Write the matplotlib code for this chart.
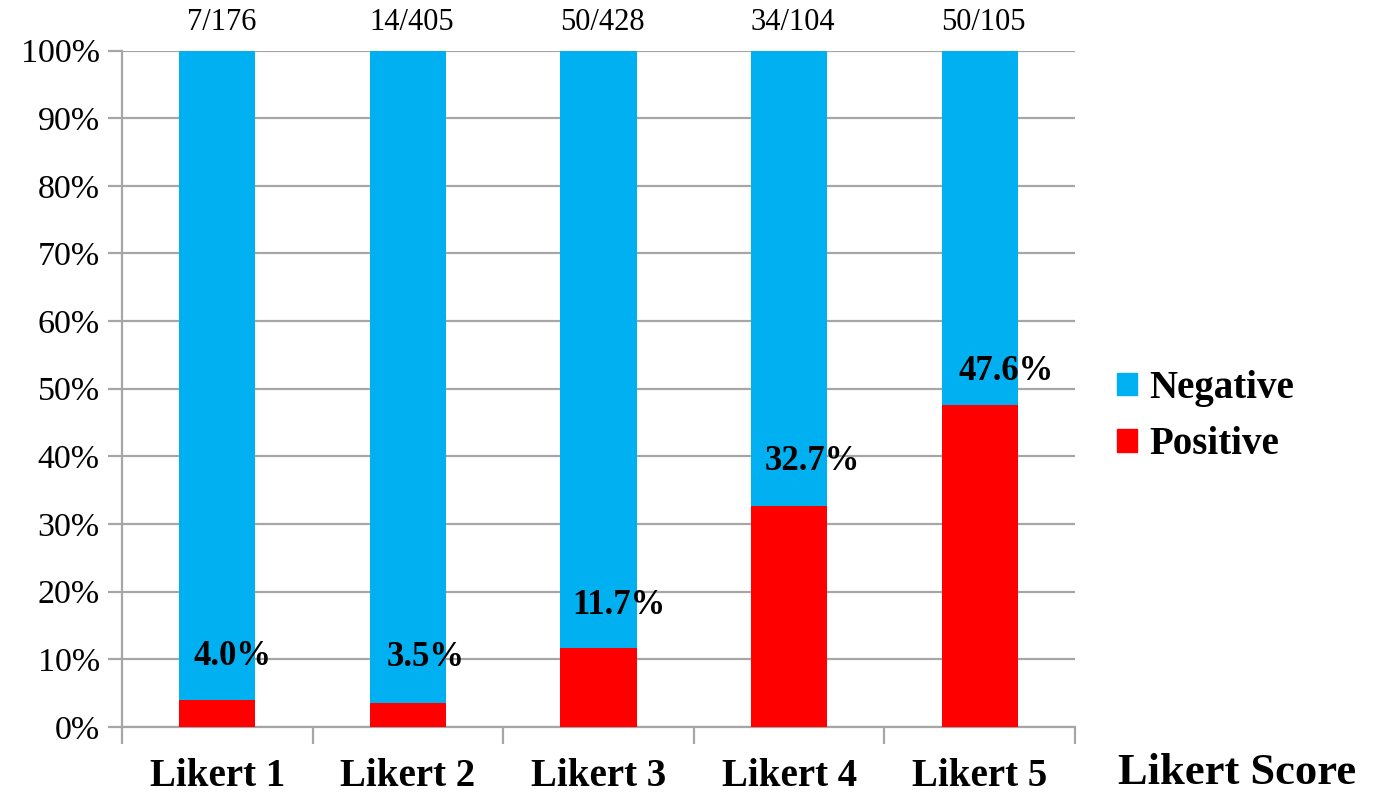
import numpy as np
import matplotlib
matplotlib.use('Agg')
import matplotlib.pyplot as plt
from matplotlib.patches import Patch
from matplotlib.ticker import FixedLocator, PercentFormatter

categories = ['Likert 1', 'Likert 2', 'Likert 3', 'Likert 4', 'Likert 5']
positive_counts = [7, 14, 50, 34, 50]
totals = [176, 405, 428, 104, 105]
positive_pct = [4.0, 3.5, 11.7, 32.7, 47.6]

blue = '#00B0F0'
red = '#FF0000'
grid_color = '#A6A6A6'
# label offsets above the red segment, in pixels (labels were hand placed)
label_offsets = [43, 46, 42, 44, 33]

plt.rcParams['font.family'] = ['Liberation Serif', 'DejaVu Serif']

fig = plt.figure(figsize=(13.76, 7.95), dpi=100)
ax = fig.add_axes([122 / 1376, 68 / 795, 953 / 1376, 676.5 / 795])

x = np.arange(len(categories))
pos = np.array(positive_pct)
neg = 100 - pos
ax.bar(x, pos, width=0.4, color=red, zorder=3, label='Positive')
ax.bar(x, neg, width=0.4, bottom=pos, color=blue, zorder=3, label='Negative')

ax.set_xlim(-0.5, len(categories) - 0.5)
ax.set_ylim(0, 100)
ax.set_yticks(np.arange(0, 101, 10))
ax.yaxis.set_major_formatter(PercentFormatter(decimals=0))
ax.grid(axis='y', color=grid_color, linewidth=1.6, zorder=0)
ax.tick_params(axis='y', direction='out', length=10, width=1.6, color=grid_color,
               labelsize=24.5, pad=6)

ax.set_xticks(x)
ax.set_xticklabels(categories, fontsize=28, fontweight='bold')
ax.tick_params(axis='x', which='major', length=0, pad=22)
ax.xaxis.set_minor_locator(FixedLocator(np.arange(-0.5, len(categories), 1.0)))
ax.tick_params(axis='x', which='minor', direction='out', length=12, width=1.6, color=grid_color)

for side in ['top', 'right']:
    ax.spines[side].set_visible(False)
for side in ['left', 'bottom']:
    ax.spines[side].set_color(grid_color)
    ax.spines[side].set_linewidth(1.6)

for i in range(len(categories)):
    ax.annotate('{:.1f}%'.format(positive_pct[i]), (x[i], pos[i]),
                xytext=(11 + 2 * i, label_offsets[i] * 0.72), textcoords='offset points',
                ha='center', va='center', fontsize=25, fontweight='bold', zorder=5)
    ax.annotate('{}/{}'.format(positive_counts[i], totals[i]), (x[i], 100),
                xytext=(3, 20), textcoords='offset points',
                ha='center', va='center', fontsize=22)

handles = [Patch(color=blue, label='Negative'), Patch(color=red, label='Positive')]
fig.legend(handles=handles, loc='center left', bbox_to_anchor=(1117 / 1376, 0.476),
           frameon=False, fontsize=28, prop={'weight': 'bold', 'size': 28},
           handlelength=0.52, handleheight=0.52, handletextpad=0.3,
           labelspacing=0.5, borderpad=0, borderaxespad=0)

fig.text(1118 / 1376, 1 - 773 / 795, 'Likert Score', fontsize=32, fontweight='bold',
         ha='left', va='center')

fig.savefig('out.png', dpi=100)
